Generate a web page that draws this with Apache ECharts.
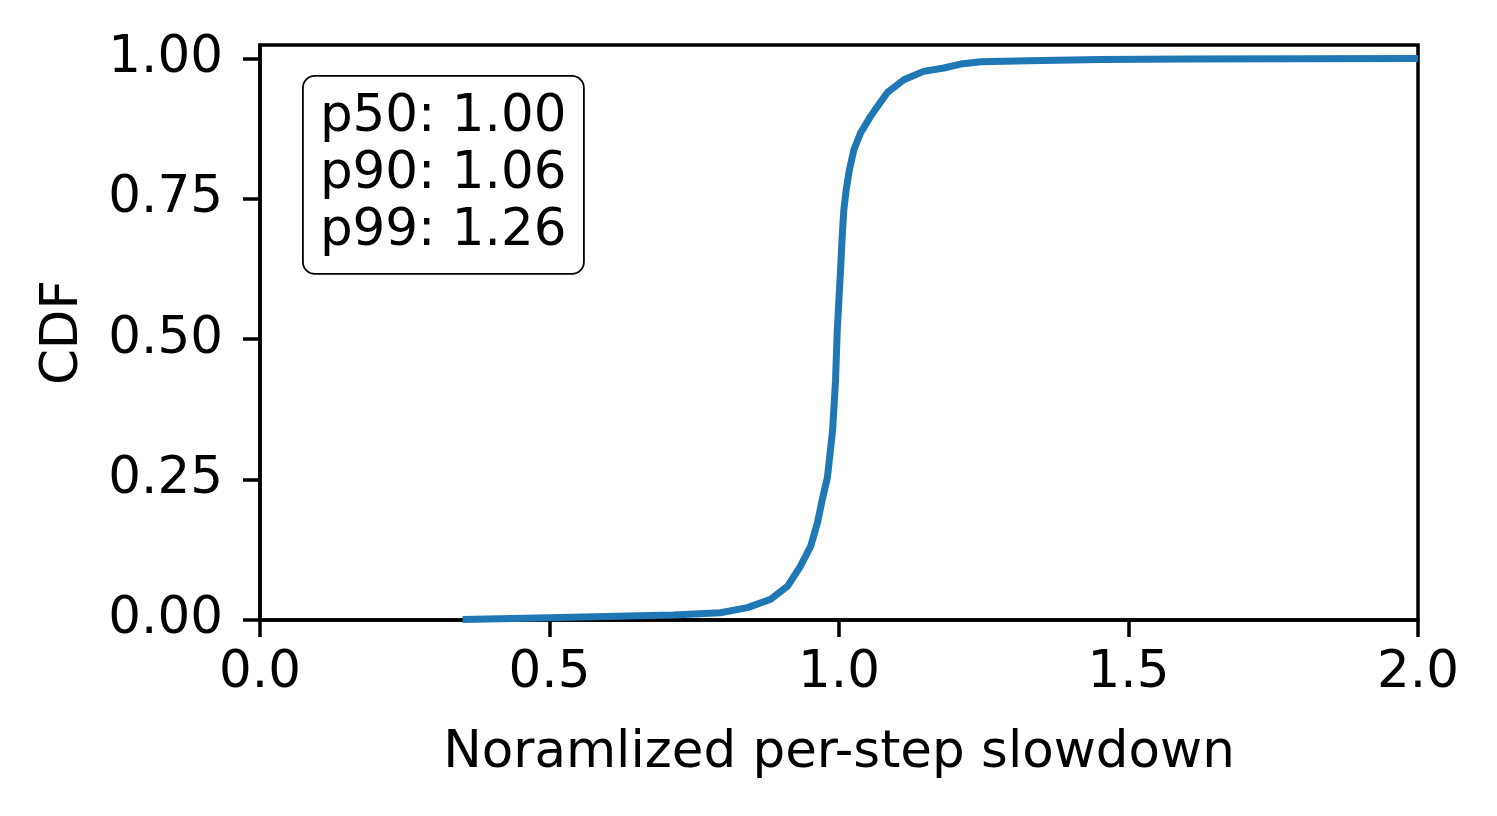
<!DOCTYPE html>
<html>
<head>
<meta charset="utf-8">
<script src="https://cdn.jsdelivr.net/npm/echarts@6/dist/echarts.min.js"></script>
<style>
html,body{margin:0;padding:0;background:#fff;}
#chart{width:1497px;height:816px;}
</style>
</head>
<body>
<div id="chart"></div>
<script>
const slowdown = [0.35, 0.50, 0.714, 0.795, 0.842, 0.882, 0.911, 0.933, 0.951, 0.963, 0.971, 0.980, 0.989, 0.994, 0.997, 1.003, 1.0055, 1.0083, 1.0124, 1.018, 1.0256, 1.037, 1.054, 1.066, 1.084, 1.112, 1.146, 1.181, 1.210, 1.245, 1.326, 1.452, 1.6, 1.8, 2.0];
const cdf = [0.001, 0.004, 0.009, 0.013, 0.022, 0.037, 0.060, 0.095, 0.131, 0.174, 0.214, 0.254, 0.338, 0.427, 0.516, 0.630, 0.683, 0.730, 0.766, 0.802, 0.837, 0.867, 0.896, 0.914, 0.940, 0.962, 0.977, 0.983, 0.990, 0.994, 0.996, 0.998, 0.999, 0.9995, 1.0];
const xTicks = [0, 0.5, 1.0, 1.5, 2.0];
const yTicks = [0, 0.25, 0.5, 0.75, 1.0];
const statLines = ['p50: 1.00', 'p90: 1.06', 'p99: 1.26'];

const FONT = 'DejaVu Sans';
const FS = 51.5;
const chart = echarts.init(document.getElementById('chart'), null, {renderer: 'canvas'});
const points = slowdown.map((x, i) => [x, cdf[i]]);

chart.setOption({
  animation: false,
  backgroundColor: '#ffffff',
  grid: {left: 260, right: 79, top: 45, bottom: 196, show: true, borderColor: '#000', borderWidth: 3.5, backgroundColor: 'transparent'},
  xAxis: {
    type: 'value', min: 0, max: 2.0, interval: 0.5,
    name: 'Noramlized per-step slowdown', nameLocation: 'middle', nameGap: 108,
    nameTextStyle: {fontFamily: FONT, fontSize: FS, color: '#000'},
    axisLine: {show: true, onZero: false, lineStyle: {color: '#000', width: 3.5}},
    axisTick: {show: true, inside: false, length: 17, lineStyle: {color: '#000', width: 3.5}, customValues: xTicks},
    axisLabel: {fontFamily: FONT, fontSize: FS, color: '#000', margin: 28, customValues: xTicks, formatter: v => v.toFixed(1)},
    splitLine: {show: false}
  },
  yAxis: {
    type: 'value', min: 0, max: 1.024,
    name: 'CDF', nameLocation: 'middle', nameGap: 170, nameRotate: 90,
    nameTextStyle: {fontFamily: FONT, fontSize: FS, color: '#000'},
    axisLine: {show: true, onZero: false, lineStyle: {color: '#000', width: 3.5}},
    axisTick: {show: true, inside: false, length: 17, lineStyle: {color: '#000', width: 3.5}, customValues: yTicks},
    axisLabel: {fontFamily: FONT, fontSize: FS, color: '#000', margin: 37, customValues: yTicks, formatter: v => v.toFixed(2)},
    splitLine: {show: false}
  },
  series: [{
    type: 'line', data: points, showSymbol: false, smooth: false,
    lineStyle: {color: '#1f77b4', width: 7, cap: 'butt', join: 'round'},
    clip: true
  }],
  graphic: [{
    type: 'group', left: 302, top: 75,
    children: [
      {type: 'rect', shape: {x: 0, y: 0, width: 281, height: 198, r: 12}, style: {fill: '#fff', stroke: '#000', lineWidth: 1.8}},
      {type: 'text', x: 17, y: 99, style: {text: statLines.join('\n'), font: FS + 'px "DejaVu Sans"', fill: '#000', lineHeight: 57, verticalAlign: 'middle', align: 'left'}}
    ]
  }]
});
</script>
</body>
</html>
